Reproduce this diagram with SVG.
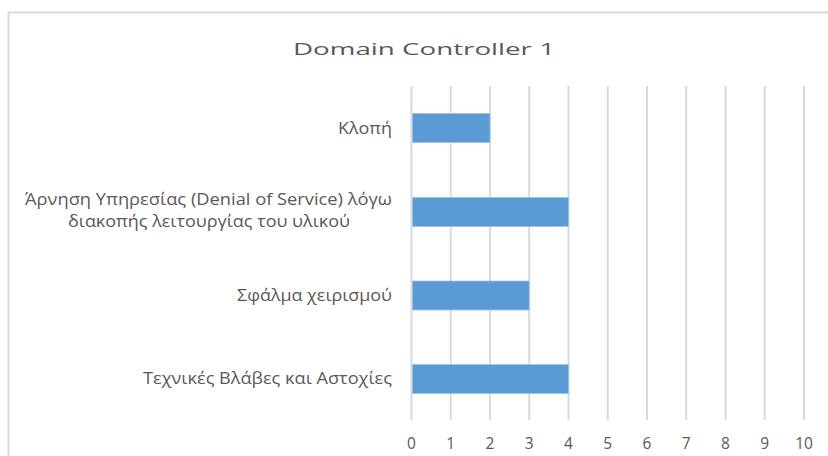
<svg xmlns="http://www.w3.org/2000/svg" width="828" height="456" viewBox="0 0 828 456">
<style>
.t{font-family:"Open Sans","Noto Sans",sans-serif;fill:#595959;font-size:16.5px}
.ax{font-size:15.5px}
.grid{stroke:#D9D9D9;stroke-width:2}
.bar{fill:#5B9BD5;stroke:#9DC3E6;stroke-width:0.8}
</style>
<rect x="0" y="0" width="828" height="456" fill="#fff"/>
<path d="M8.5 460 V12.5 H830" fill="none" stroke="#D9D9D9" stroke-width="2"/>
<text class="t" x="424" y="55" text-anchor="middle" font-size="23.5" textLength="262" lengthAdjust="spacingAndGlyphs">Domain Controller 1</text>
<g id="gridlines">
<line class="grid" x1="411.5" y1="86" x2="411.5" y2="420"/>
<line class="grid" x1="450.7" y1="86" x2="450.7" y2="420"/>
<line class="grid" x1="490" y1="86" x2="490" y2="420"/>
<line class="grid" x1="529.2" y1="86" x2="529.2" y2="420"/>
<line class="grid" x1="568.5" y1="86" x2="568.5" y2="420"/>
<line class="grid" x1="607.7" y1="86" x2="607.7" y2="420"/>
<line class="grid" x1="647" y1="86" x2="647" y2="420"/>
<line class="grid" x1="686.2" y1="86" x2="686.2" y2="420"/>
<line class="grid" x1="725.5" y1="86" x2="725.5" y2="420"/>
<line class="grid" x1="764.7" y1="86" x2="764.7" y2="420"/>
<line class="grid" x1="804" y1="86" x2="804" y2="420"/>
</g>
<g id="axis-labels" text-anchor="middle">
<text class="t ax" x="411.5" y="449">0</text>
<text class="t ax" x="450.7" y="449">1</text>
<text class="t ax" x="490" y="449">2</text>
<text class="t ax" x="529.2" y="449">3</text>
<text class="t ax" x="568.5" y="449">4</text>
<text class="t ax" x="607.7" y="449">5</text>
<text class="t ax" x="647" y="449">6</text>
<text class="t ax" x="686.2" y="449">7</text>
<text class="t ax" x="725.5" y="449">8</text>
<text class="t ax" x="764.7" y="449">9</text>
<text class="t ax" x="804" y="449">10</text>
</g>
<g id="bar-klopi">
<rect class="bar" x="412.5" y="113.5" width="77.5" height="29"/>
<text class="t" x="392" y="133.5" text-anchor="end" textLength="54" lengthAdjust="spacingAndGlyphs">Κλοπή</text>
</g>
<g id="bar-dos">
<rect class="bar" x="412.5" y="197.5" width="156" height="29"/>
<text class="t" x="208.5" y="205" text-anchor="middle" textLength="367" lengthAdjust="spacingAndGlyphs">Άρνηση Υπηρεσίας (Denial of Service) λόγω</text>
<text class="t" x="209" y="226.7" text-anchor="middle" textLength="282" lengthAdjust="spacingAndGlyphs">διακοπής λειτουργίας του υλικού</text>
</g>
<g id="bar-sfalma">
<rect class="bar" x="412.5" y="281" width="116.7" height="29"/>
<text class="t" x="392" y="300.5" text-anchor="end" textLength="155" lengthAdjust="spacingAndGlyphs">Σφάλμα χειρισμού</text>
</g>
<g id="bar-texnikes">
<rect class="bar" x="412.5" y="364.5" width="156" height="29"/>
<text class="t" x="392" y="384" text-anchor="end" textLength="249" lengthAdjust="spacingAndGlyphs">Τεχνικές Βλάβες και Αστοχίες</text>
</g>
</svg>
